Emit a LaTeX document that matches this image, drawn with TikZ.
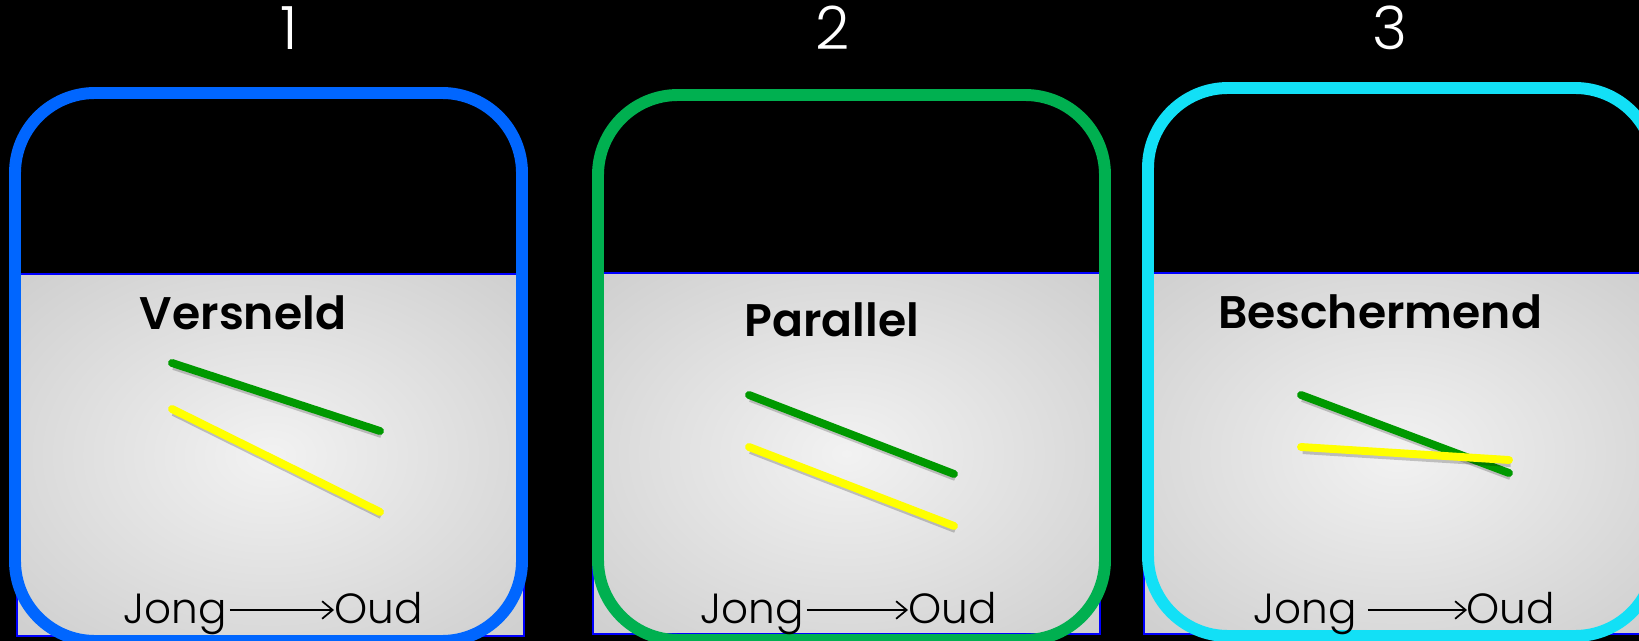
\documentclass[tikz,border=0pt]{standalone}
\usepackage{fontspec}
\setmainfont{Poppins}
\newfontfamily\thinfont{Poppins Light}
\newfontfamily\headfont{Poppins SemiBold}
\usetikzlibrary{arrows.meta, calc}

\definecolor{frameBlue}{RGB}{0,102,255}
\definecolor{frameGreen}{RGB}{0,176,80}
\definecolor{frameCyan}{RGB}{18,224,246}
\definecolor{lineGreen}{RGB}{0,153,0}
\definecolor{lineYellow}{RGB}{255,255,0}
\definecolor{glowIn}{RGB}{242,242,242}
\definecolor{glowOut}{RGB}{192,192,192}
\definecolor{glowEdge}{RGB}{186,186,186}
\pgfdeclareradialshading{panelglow}{\pgfpoint{0bp}{0bp}}{color(0bp)=(glowIn); color(50bp)=(glowOut); color(72bp)=(glowEdge)}

\begin{document}
\begin{tikzpicture}[x=0.02cm, y=-0.02cm,
    numtext/.style={text=white, font=\thinfont\fontsize{34}{36}\selectfont, anchor=base, inner sep=0pt},
    titletext/.style={font=\headfont\fontsize{26}{30}\selectfont, anchor=base, inner sep=0pt},
    axistext/.style={font=\thinfont\fontsize{24}{26}\selectfont, anchor=base west, inner sep=0pt},
    agearrow/.style={-{Straight Barb[length=6pt, width=10pt]}, line width=1pt},
    trend/.style={line width=4.5pt, line cap=round,
        preaction={draw=black, opacity=0.2, line width=5pt, transform canvas={shift={(1pt,-1.5pt)}}}},
    panelframe/.style={line width=6.8pt, rounded corners=1.6cm},
    panelfill/.style={shading=panelglow, draw=blue, line width=0.8pt}]

    % --- achtergrond ---
    \fill[black] (0,0) rectangle (1639,641);
    \useasboundingbox (0,0) rectangle (1639,641);
    \clip (0,0) rectangle (1639,641);

    % --- panelen: grijs vlak en gekleurd kader ---
    \foreach \gx/\gy/\gh/\fx/\fy/\fh/\col in {17/274/362/15/93/548/frameBlue,
                                             593/273/361/598/95/545/frameGreen,
                                             1144/273/361/1148/88/548/frameCyan}
    {
        \shade[panelfill] (\gx,\gy) rectangle ++(507,\gh);
        \draw[panelframe, \col] (\fx,\fy) rectangle ++(507,\fh);
    }

    % --- nummers (boven) ---
    \node[numtext] (num1) at (289,50) {1};
    \node[numtext] (num2) at (833,50) {2};
    \node[numtext] (num3) at (1390,50) {3};

    % --- titels ---
    \node[titletext] (title1) at (243,330) {Versneld};
    \node[titletext] (title2) at (832,337) {Parallel};
    \node[titletext] (title3) at (1380,329) {Beschermend};

    % --- trendlijnen ---
    \draw[trend, lineGreen] (172,363) -- (380,431);
    \draw[trend, lineYellow] (172,409) -- (380,512);

    \draw[trend, lineGreen] (749,395) -- (954,474);
    \draw[trend, lineYellow] (749,447) -- (954,526);

    \draw[trend, lineGreen] (1301,395) -- (1509,473);
    \draw[trend, lineYellow] (1301,447) -- (1509,460);

    % --- leeftijdsas (onder) ---
    \node[axistext] (jong1) at (123,623) {Jong};
    \node[axistext] (oud1) at (334,623) {Oud};
    \draw[agearrow] ($(jong1.base east)+(3,-13)$) -- ($(oud1.base west)+(0,-13)$);

    \node[axistext] (jong2) at (700,623) {Jong};
    \node[axistext] (oud2) at (908,623) {Oud};
    \draw[agearrow] ($(jong2.base east)+(3,-13)$) -- ($(oud2.base west)+(0,-13)$);

    \node[axistext] (jong3) at (1253,623) {Jong};
    \node[axistext] (oud3) at (1466,623) {Oud};
    \draw[agearrow] ($(jong3.base east)+(11,-13)$) -- ($(oud3.base west)+(1,-13)$);

\end{tikzpicture}
\end{document}
